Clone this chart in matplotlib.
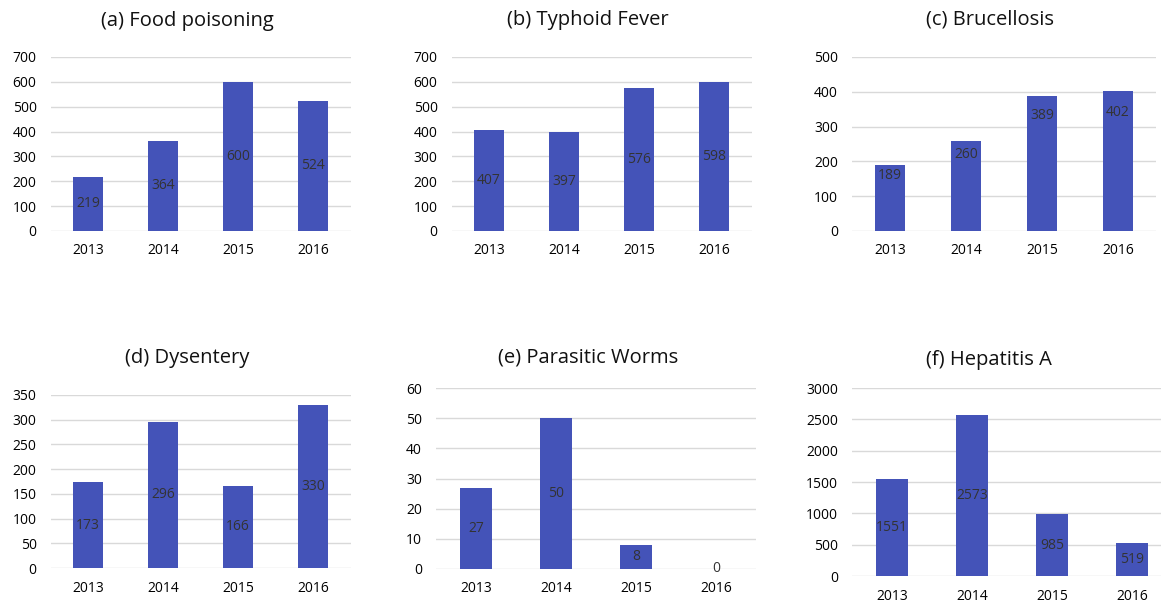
import matplotlib
matplotlib.use('Agg')
from matplotlib import pyplot as plt

# data
years = ['2013', '2014', '2015', '2016']
food_poisoning = [219, 364, 600, 524]
typhoid_fever = [407, 397, 576, 598]
brucellosis = [189, 260, 389, 402]
dysentery = [173, 296, 166, 330]
parasitic_worms = [27, 50, 8, 0]
hepatitis_a = [1551, 2573, 985, 519]

titles = ['(a) Food poisoning', '(b) Typhoid Fever', '(c) Brucellosis',
          '(d) Dysentery', '(e) Parasitic Worms', '(f) Hepatitis A']
series = [food_poisoning, typhoid_fever, brucellosis,
          dysentery, parasitic_worms, hepatitis_a]
y_max = [700, 700, 500, 350, 60, 3000]
y_step = [100, 100, 100, 50, 10, 500]

W, H = 1161, 604
# axes boxes in pixels: left, top, right, bottom ; title centre x, y ; label position along bar
boxes = [
    (50.5, 57, 350.5, 231, 187, 21, 0.5),
    (451.5, 57, 751.5, 231, 588, 20, 0.5),
    (852, 57, 1156, 231, 990, 20, 0.85),
    (50.5, 395, 350.5, 568, 187, 358, 0.5),
    (436, 388, 756, 569, 588, 357, 0.5),
    (852, 388, 1172, 576, 989, 360, 0.5),
]

bar_color = '#4453B8'
grid_color = '#d9d9d9'
plt.rcParams['font.family'] = ['Open Sans', 'DejaVu Sans']

fig = plt.figure(figsize=(W / 100, H / 100), dpi=100)

for vals, title, ymax, step, box in zip(series, titles, y_max, y_step, boxes):
    l, t, r, b, tx, ty, frac = box
    ax = fig.add_axes([l / W, 1 - b / H, (r - l) / W, (b - t) / H])
    x = range(len(years))
    ax.bar(x, vals, width=0.4, color=bar_color, zorder=3)
    for xi, v in zip(x, vals):
        ax.text(xi, v * frac, str(v), ha='center', va='center',
                fontsize=10, color='#333333', zorder=4)
    ax.set_xlim(-0.5, len(years) - 0.5)
    ax.set_ylim(0, ymax)
    ax.set_yticks(range(0, ymax + 1, step))
    ax.set_xticks(list(x))
    ax.set_xticklabels(years)
    ax.grid(axis='y', color=grid_color, linewidth=1, zorder=0)
    for s in ax.spines.values():
        s.set_visible(False)
    ax.tick_params(axis='both', length=0, labelsize=10, colors='#000000')
    ax.tick_params(axis='y', pad=10)
    ax.tick_params(axis='x', pad=9)
    fig.text(tx / W, 1 - ty / H, title, ha='center', va='center',
             fontsize=14.5, color='#111111')

plt.savefig('out.png', dpi=100)
